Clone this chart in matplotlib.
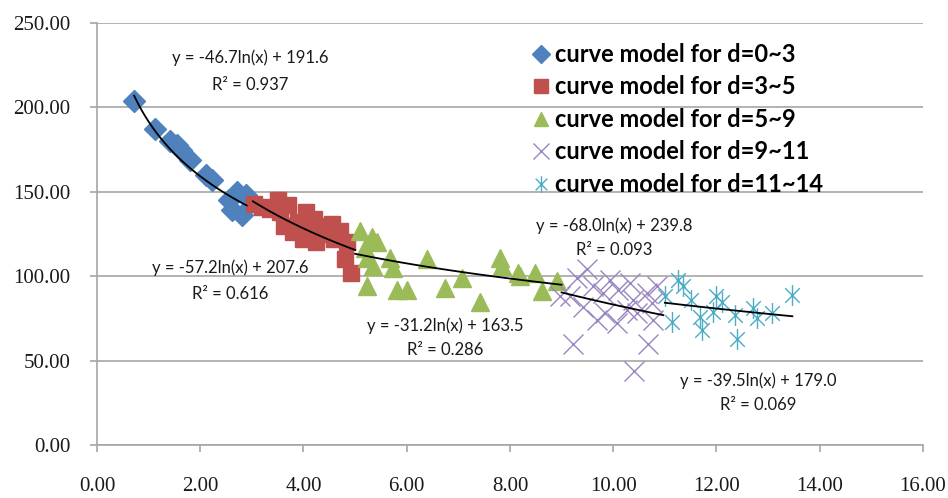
import numpy as np
import matplotlib
matplotlib.use("Agg")
from matplotlib import pyplot as plt
from matplotlib.path import Path

# d = 0~3
blue_x = [0.72, 1.12, 1.42, 1.55, 1.62, 1.80, 2.12, 2.22, 2.55, 2.62, 2.72, 2.80, 2.88]
blue_y = [204, 187, 180, 178, 175, 169, 160, 157, 145, 139, 150, 136, 148]

# d = 3~5
red_x = [3.05, 3.20, 3.35, 3.50, 3.55, 3.62, 3.70, 3.80, 3.90, 4.00, 4.05, 4.10,
         4.20, 4.25, 4.35, 4.45, 4.55, 4.60, 4.70, 4.80, 4.85, 4.92]
red_y = [143, 141, 140, 145, 138, 130, 142, 126, 132, 122, 138, 128,
         134, 120, 130, 125, 131, 122, 127, 110, 120, 102]

# d = 5~9
green_x = [5.10, 5.20, 5.33, 5.43, 5.23, 5.35, 5.68, 5.74, 5.23, 5.81, 6.00,
           6.40, 6.74, 7.07, 7.42, 7.81, 7.85, 8.16, 8.20, 8.49, 8.62, 8.91]
green_y = [127, 117, 123, 120, 111, 106, 111, 105, 94, 92, 92,
           110, 93, 99, 85, 111, 106, 102, 100, 102, 91, 97]

# d = 9~11
purple_x = [8.97, 9.17, 9.22, 9.30, 9.42, 9.50, 9.60, 9.69, 9.80, 9.85, 9.94,
            10.08, 10.10, 10.27, 10.33, 10.39, 10.40, 10.47, 10.66, 10.68,
            10.76, 10.78, 10.85]
purple_y = [88, 88, 60, 99, 82, 104, 94, 74, 90, 78, 98,
            72, 92, 80, 96, 86, 44, 78, 90, 60,
            84, 74, 94]

# d = 11~14
cyan_x = [11.00, 11.14, 11.26, 11.36, 11.50, 11.69, 11.72, 11.94, 12.00, 12.10,
          12.36, 12.40, 12.70, 12.78, 13.07, 13.47]
cyan_y = [88, 73, 98, 94, 86, 76, 68, 79, 88, 85,
          77, 63, 81, 75, 78, 89]

# trendline y = a*ln(x) + b, and R^2
fit_a = [-46.7, -57.2, -31.2, -68.0, -39.5]
fit_b = [191.6, 207.6, 163.5, 239.8, 179.0]
fit_r2 = [0.937, 0.616, 0.286, 0.093, 0.069]
fit_xrange = [(0.72, 2.90), (3.02, 5.0), (5.0, 9.0), (9.0, 10.97), (11.0, 13.47)]
# where the equation labels sit (data coords): x, y of first line, y of second line
eq_pos = [(2.97, 229.5, 213.5), (2.58, 105, 89.5), (6.74, 70.5, 56.3),
          (10.02, 129.7, 115.5), (12.81, 37.9, 23.7)]

labels = ["curve model for d=0~3", "curve model for d=3~5", "curve model for d=5~9",
          "curve model for d=9~11", "curve model for d=11~14"]

# asterisk marker like excel: vertical bar + an X
star_path = Path([(0, -1), (0, 1), (-0.7, -0.7), (0.7, 0.7), (-0.7, 0.7), (0.7, -0.7)],
                 [Path.MOVETO, Path.LINETO, Path.MOVETO, Path.LINETO, Path.MOVETO, Path.LINETO])

fig = plt.figure(figsize=(9.48, 4.98), dpi=100)
ax = fig.add_axes([0.1023, 0.1064, 0.8713, 0.8474])

h1, = ax.plot(blue_x, blue_y, 'D', color='#4F81BD', ms=11, mec='#4F81BD', ls='none', zorder=3)
h2, = ax.plot(red_x, red_y, 's', color='#C0504D', ms=12, mec='#C0504D', ls='none', zorder=3)
h3, = ax.plot(green_x, green_y, '^', color='#9BBB59', ms=13, mec='#9BBB59', ls='none', zorder=3)
h4, = ax.plot(purple_x, purple_y, 'x', color='#9A86C0', ms=14, mew=1.0, ls='none', zorder=3)
h5, = ax.plot(cyan_x, cyan_y, marker=star_path, color='#4BACC6', ms=15, mew=1.0, ls='none', zorder=3)

for a, b, (x0, x1) in zip(fit_a, fit_b, fit_xrange):
  xs = np.linspace(x0, x1, 100)
  ax.plot(xs, a * np.log(xs) + b, color='black', lw=1.3, zorder=4)

eq_font = dict(family='Lato', fontsize=12, ha='center', va='center', color='#1a1a1a')
for a, b, r2, (px, py1, py2) in zip(fit_a, fit_b, fit_r2, eq_pos):
  ax.text(px, py1, f"y = {a:.1f}ln(x) + {b:.1f}", **eq_font)
  ax.text(px, py2, f"R² = {r2:.3f}", **eq_font)

ax.set_xlim(0, 16)
ax.set_ylim(0, 250)
ax.set_xticks(np.arange(0, 17, 2))
ax.set_yticks(np.arange(0, 251, 50))
ax.xaxis.set_major_formatter(matplotlib.ticker.FormatStrFormatter('%.2f'))
ax.yaxis.set_major_formatter(matplotlib.ticker.FormatStrFormatter('%.2f'))

ax.set_axisbelow(True)
ax.yaxis.grid(True, color='#A6A6A6', lw=1.2)
for s in ['top', 'right']:
  ax.spines[s].set_visible(False)
for s in ['left', 'bottom']:
  ax.spines[s].set_color('#A6A6A6')
  ax.spines[s].set_linewidth(1.2)
ax.tick_params(axis='both', color='#A6A6A6', length=5, width=1.2, direction='out')
ax.tick_params(axis='y', pad=14)
ax.tick_params(axis='x', pad=18)
for lbl in ax.get_xticklabels() + ax.get_yticklabels():
  lbl.set_fontfamily('Liberation Serif')
  lbl.set_fontsize(15)
  lbl.set_color('#1a1a1a')

ax.legend([h1, h2, h3, h4, h5], labels, loc='upper left', bbox_to_anchor=(0.515, 0.975),
          frameon=False, prop={'family': 'Lato', 'size': 17, 'weight': 'bold'},
          markerscale=0.8, handlelength=0.8, handletextpad=0.2, labelspacing=0.4,
          borderaxespad=0)

fig.savefig("out.png", dpi=100)
